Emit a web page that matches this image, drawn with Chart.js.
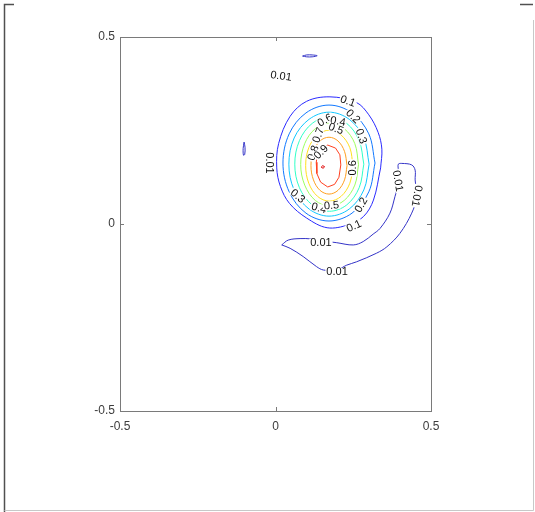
<!DOCTYPE html>
<html>
<head>
<meta charset="utf-8">
<script src="https://cdn.jsdelivr.net/npm/chart.js@4.4.1/dist/chart.umd.min.js"></script>
<style>
  html, body { margin: 0; padding: 0; background: #fff; }
  canvas { display: block; }
</style>
</head>
<body>
<canvas id="c" width="535" height="512"></canvas>
<script>
// Axis ticks
const xTicks = [-0.5, 0, 0.5];
const yTicks = [-0.5, 0, 0.5];

// Contour levels
const levels = [0.01, 0.1, 0.2, 0.3, 0.4, 0.5, 0.6, 0.7, 0.8, 0.9];

// Contour paths, [x, y] in data units
const c001Loop = [[.020,-.056],[.041,-.043],[.079,-.039],[.116,-.040],[.160,-.046],[.197,-.050],[.250,-.056],[.282,-.047],[.314,-.027],[.336,-.012],[.368,.029],[.384,.073],[.395,.109],[.395,.144],[.395,.160],[.406,.162],[.438,.158],[.449,.144],[.449,.118],[.454,.073],[.438,.029],[.400,-.025],[.358,-.061],[.325,-.078],[.261,-.101],[.229,-.110],[.197,-.123],[.154,-.123],[.132,-.114],[.089,-.087],[.047,-.065],[.020,-.056]];
const c001Top = [[.087,.449],[.100,.452],[.118,.452],[.134,.450],[.118,.447],[.100,.447],[.087,.449]];
const c001Left = [[-.101,.219],[-.098,.205],[-.099,.186],[-.103,.184],[-.104,.202],[-.101,.219]];
const c01 = [[.338,.150],[.342,.200],[.330,.245],[.300,.292],[.260,.325],[.175,.340],[.100,.328],[.047,.288],[.010,.215],[.004,.150],[.016,.100],[.045,.055],[.100,.016],[.166,-.010],[.235,-.002],[.283,.020],[.315,.064],[.338,.150]];
const c02 = [[.320,.163],[.300,.241],[.246,.297],[.172,.318],[.098,.297],[.044,.241],[.024,.163],[.044,.086],[.098,.029],[.172,.008],[.246,.029],[.300,.086],[.320,.163]];
const c03 = [[.301,.160],[.284,.230],[.237,.280],[.172,.299],[.108,.280],[.060,.230],[.043,.160],[.060,.091],[.108,.040],[.172,.021],[.237,.040],[.284,.091],[.301,.160]];
const c04 = [[.284,.160],[.269,.223],[.229,.269],[.173,.286],[.118,.269],[.077,.223],[.062,.160],[.077,.097],[.118,.051],[.173,.034],[.229,.051],[.269,.097],[.284,.160]];
const c05 = [[.267,.159],[.255,.215],[.221,.255],[.174,.270],[.128,.255],[.094,.215],[.081,.159],[.094,.104],[.128,.063],[.174,.048],[.221,.063],[.255,.104],[.267,.159]];
const c06 = [[.249,.156],[.239,.204],[.211,.238],[.173,.251],[.135,.238],[.107,.204],[.097,.156],[.107,.109],[.135,.074],[.173,.061],[.211,.074],[.239,.109],[.249,.156]];
const c07 = [[.230,.156],[.222,.194],[.201,.222],[.172,.232],[.143,.222],[.122,.194],[.114,.156],[.122,.118],[.143,.090],[.172,.080],[.201,.090],[.222,.118],[.230,.156]];
const c08 = [[.210,.158],[.207,.185],[.193,.203],[.168,.211],[.148,.205],[.136,.190],[.131,.165],[.133,.135],[.145,.112],[.168,.099],[.190,.106],[.204,.125],[.210,.158]];
const c09 = [[.147,.152],[.152,.156],[.158,.153],[.153,.149],[.147,.152]];

// Inline contour labels: level, x, y, angle (deg)
const contourLabels = [
  [0.01, .018, .396, 8],
  [0.01, -.018, .163, 90],
  [0.01, .146, -.050, 0],
  [0.01, .394, .115, 80],
  [0.01, .455, .075, 100],
  [0.01, .198, -.128, 0],
  [0.1, .233, .329, 20],
  [0.1, .252, -.005, -25],
  [0.2, .250, .288, 45],
  [0.2, .275, .051, -60],
  [0.3, .276, .235, 70],
  [0.3, .072, .075, 40],
  [0.4, .140, .043, 15],
  [0.5, .180, .050, -5],
  [0.6, .249, .150, -90],
  [0.6, .159, .278, -30],
  [0.4, .201, .275, 10],
  [0.5, .195, .255, 20],
  [0.7, .137, .238, -70],
  [0.8, .121, .190, -70],
  [0.9, .146, .193, -45]
];

const contourSet = [
  [0.01, c001Loop], [0.01, c001Top], [0.01, c001Left],
  [0.1, c01], [0.2, c02], [0.3, c03], [0.4, c04], [0.5, c05],
  [0.6, c06], [0.7, c07], [0.8, c08], [0.9, c09]
];

// jet-like colour per level
const levelColor = {
  0.01: '#3434c8', 0.1: '#2a2aff', 0.2: '#1078ff', 0.3: '#10c8ff',
  0.4: '#30ffc8', 0.5: '#9cff60', 0.6: '#ffe020', 0.7: '#ffa020',
  0.8: '#ff4020', 0.9: '#e00000'
};

const datasets = contourSet.map(([lv, pts]) => ({
  data: pts.map(p => ({ x: p[0], y: p[1] })),
  showLine: true,
  borderColor: levelColor[lv],
  borderWidth: 1,
  pointRadius: 0,
  fill: false,
  tension: lv === 0.8 || lv === 0.9 ? 0 : 0.35
}));

const axisFont = { family: '"Liberation Sans", Arial, sans-serif', size: 12 };

const decor = {
  id: 'decor',
  beforeDraw(chart) {
    const ctx = chart.ctx;
    ctx.save();
    ctx.fillStyle = '#fff';
    ctx.fillRect(0, 0, chart.width, chart.height);
    // figure frame
    ctx.strokeStyle = '#505050';
    ctx.lineWidth = 1.5;
    ctx.beginPath();
    ctx.moveTo(14, 4.5); ctx.lineTo(4.5, 4.5); ctx.lineTo(4.5, 512);
    ctx.stroke();
    ctx.beginPath();
    ctx.moveTo(520, 4.5); ctx.lineTo(533, 4.5);
    ctx.stroke();
    ctx.strokeStyle = '#c8c8c8';
    ctx.lineWidth = 1;
    ctx.beginPath();
    ctx.moveTo(533.5, 20); ctx.lineTo(533.5, 510.5); ctx.lineTo(4.5, 510.5);
    ctx.stroke();
    ctx.restore();
  },
  afterDatasetsDraw(chart) {
    const ctx = chart.ctx, xs = chart.scales.x, ys = chart.scales.y;
    ctx.save();
    ctx.font = '11px "Liberation Sans", Arial, sans-serif';
    ctx.textAlign = 'center';
    ctx.textBaseline = 'middle';
    contourLabels.forEach(([lv, x, y, rot]) => {
      const txt = String(lv);
      const px = xs.getPixelForValue(x), py = ys.getPixelForValue(y);
      const w = ctx.measureText(txt).width;
      ctx.save();
      ctx.translate(px, py);
      ctx.rotate(rot * Math.PI / 180);
      ctx.fillStyle = '#fff';
      ctx.fillRect(-w / 2 - 1, -4, w + 2, 8);
      ctx.fillStyle = '#111';
      ctx.fillText(txt, 0, 0.5);
      ctx.restore();
    });
    ctx.restore();
  },
  afterDraw(chart) {
    const ctx = chart.ctx, a = chart.chartArea, xs = chart.scales.x, ys = chart.scales.y;
    ctx.save();
    ctx.strokeStyle = '#7a7a7a';
    ctx.lineWidth = 1;
    ctx.strokeRect(Math.round(a.left) + 0.5, Math.round(a.top) + 0.5,
      Math.round(a.right - a.left), Math.round(a.bottom - a.top));
    ctx.beginPath();
    xTicks.forEach(v => {
      const px = Math.round(xs.getPixelForValue(v)) + 0.5;
      ctx.moveTo(px, a.bottom); ctx.lineTo(px, a.bottom - 4);
      ctx.moveTo(px, a.top); ctx.lineTo(px, a.top + 4);
    });
    yTicks.forEach(v => {
      const py = Math.round(ys.getPixelForValue(v)) + 0.5;
      ctx.moveTo(a.left, py); ctx.lineTo(a.left + 4, py);
      ctx.moveTo(a.right, py); ctx.lineTo(a.right - 4, py);
    });
    ctx.stroke();
    ctx.restore();
  }
};

new Chart(document.getElementById('c'), {
  type: 'scatter',
  data: { datasets },
  options: {
    responsive: false,
    animation: false,
    events: [],
    layout: { padding: { left: 0, top: 37, right: 104, bottom: 0 } },
    plugins: { legend: { display: false }, tooltip: { enabled: false } },
    scales: {
      x: {
        type: 'linear', min: -0.5, max: 0.5,
        afterBuildTicks: s => { s.ticks = xTicks.map(v => ({ value: v })); },
        afterFit: s => { s.height = 101; },
        grid: { display: false, drawTicks: false },
        border: { display: false },
        ticks: { color: '#3c3c3c', font: axisFont, padding: 8, maxRotation: 0, autoSkip: false }
      },
      y: {
        type: 'linear', min: -0.5, max: 0.5,
        afterBuildTicks: s => { s.ticks = yTicks.map(v => ({ value: v })); },
        afterFit: s => { s.width = 120; },
        grid: { display: false, drawTicks: false },
        border: { display: false },
        ticks: { color: '#3c3c3c', font: axisFont, padding: 5, autoSkip: false }
      }
    }
  },
  plugins: [decor]
});
</script>
</body>
</html>
